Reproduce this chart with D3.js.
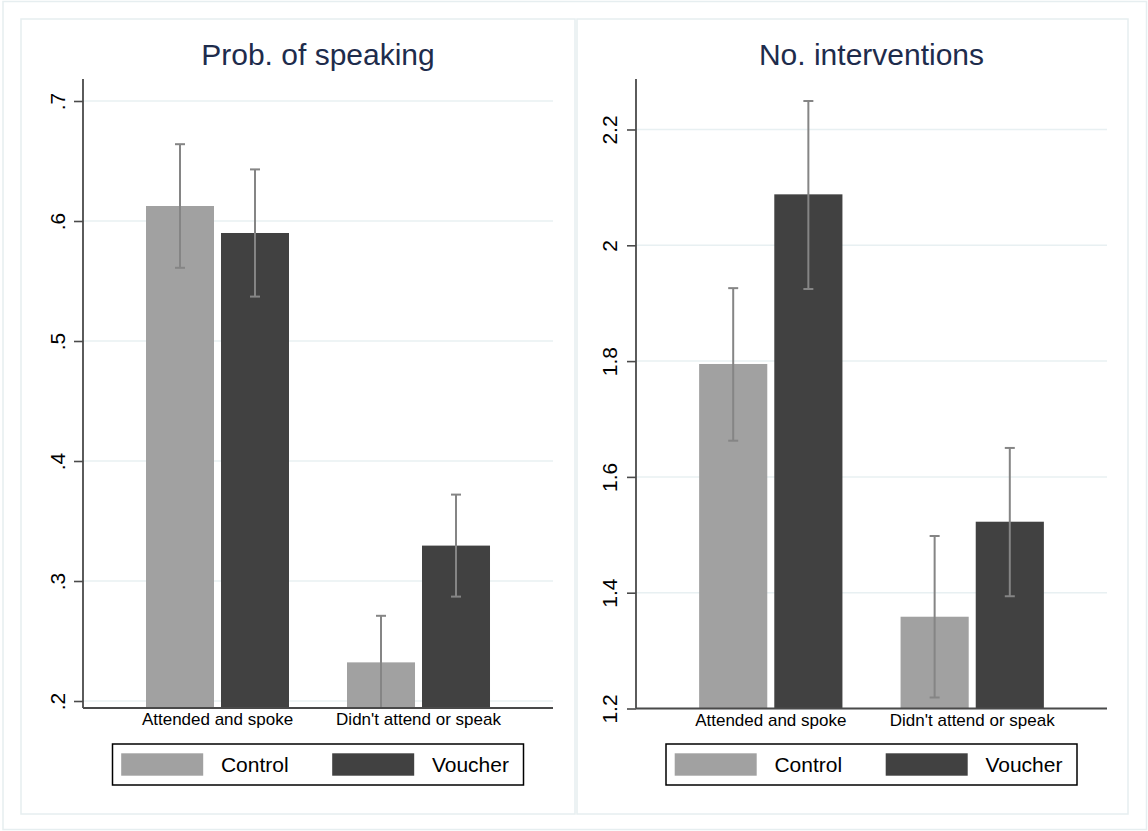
<!DOCTYPE html>
<html>
<head>
<meta charset="utf-8">
<script src="https://cdn.jsdelivr.net/npm/d3@7"></script>
<style>
  html, body { margin: 0; padding: 0; background: #ffffff; }
  svg { display: block; font-family: "Liberation Sans", Arial, Helvetica, sans-serif; }
</style>
</head>
<body>
<svg id="chart" width="1148" height="831"></svg>
<script>
// Outcome categories and treatment arms
const groups = ["Attended and spoke", "Didn't attend or speak"];
const arms = ["Control", "Voucher"];
const armColors = ["#a1a1a1", "#414141"];

// Probability of speaking: means and 95% CI bounds, per category
const probControl   = [0.6125, 0.2322];
const probVoucher   = [0.5900, 0.3295];
const probControlLo = [0.5610, 0.1930];
const probControlHi = [0.6640, 0.2710];
const probVoucherLo = [0.5370, 0.2870];
const probVoucherHi = [0.6430, 0.3720];

// Number of interventions: means and 95% CI bounds, per category
const nControl   = [1.7950, 1.3585];
const nVoucher   = [2.0880, 1.5226];
const nControlLo = [1.6625, 1.2190];
const nControlHi = [1.9260, 1.4980];
const nVoucherLo = [1.9245, 1.3940];
const nVoucherHi = [2.2490, 1.6500];

// Y-axis ticks
const probTicks = [0.2, 0.3, 0.4, 0.5, 0.6, 0.7];
const probTickLabels = [".2", ".3", ".4", ".5", ".6", ".7"];
const nTicks = [1.2, 1.4, 1.6, 1.8, 2.0, 2.2];
const nTickLabels = ["1.2", "1.4", "1.6", "1.8", "2", "2.2"];

function rows(ctrl, vouch, cLo, cHi, vLo, vHi) {
  return groups.map((g, i) => ({
    group: g,
    bars: [
      { arm: arms[0], value: ctrl[i],  lo: cLo[i], hi: cHi[i] },
      { arm: arms[1], value: vouch[i], lo: vLo[i], hi: vHi[i] }
    ]
  }));
}

const panels = [
  {
    title: "Prob. of speaking",
    frame: { x: 21, y: 19, w: 554, h: 795 },
    plot: { left: 83, right: 553, top: 79, bottom: 708 },
    domain: [0.19417, 0.71833],
    ticks: probTicks, tickLabels: probTickLabels, labelOffset: 18,
    data: rows(probControl, probVoucher, probControlLo, probControlHi, probVoucherLo, probVoucherHi)
  },
  {
    title: "No. interventions",
    frame: { x: 577, y: 19, w: 551, h: 795 },
    plot: { left: 636, right: 1107, top: 79, bottom: 708.5 },
    domain: [1.2, 2.2872],
    ticks: nTicks, tickLabels: nTickLabels, labelOffset: 19,
    data: rows(nControl, nVoucher, nControlLo, nControlHi, nVoucherLo, nVoucherHi)
  }
];

const svg = d3.select("#chart");
const edge = "#e6eef0";

// Outer graph region border
svg.append("rect")
  .attr("x", 3).attr("y", 1.5).attr("width", 1143.5).attr("height", 828)
  .attr("fill", "#ffffff").attr("stroke", edge).attr("stroke-width", 1.5);

panels.forEach((p, pi) => {
  const g = svg.append("g");

  g.append("rect")
    .attr("x", p.frame.x).attr("y", p.frame.y)
    .attr("width", p.frame.w).attr("height", p.frame.h)
    .attr("fill", "#ffffff").attr("stroke", edge).attr("stroke-width", 1.5);

  const y = d3.scaleLinear().domain(p.domain).range([p.plot.bottom, p.plot.top]);
  const x0 = d3.scaleBand().domain(groups)
    .range([p.plot.left, p.plot.right])
    .paddingInner(0.2886).paddingOuter(0.3134);
  const x1 = d3.scaleBand().domain(arms)
    .range([0, x0.bandwidth()])
    .paddingInner(0.0933).paddingOuter(0);
  const color = d3.scaleOrdinal().domain(arms).range(armColors);

  // Gridlines
  g.append("g").selectAll("line").data(p.ticks).join("line")
    .attr("x1", p.plot.left).attr("x2", p.plot.right)
    .attr("y1", d => y(d)).attr("y2", d => y(d))
    .attr("stroke", "#e8f0f2").attr("stroke-width", 1.5);

  // Title
  g.append("text")
    .attr("x", (p.plot.left + p.plot.right) / 2).attr("y", 65)
    .attr("text-anchor", "middle")
    .attr("font-size", 30).attr("fill", "#1e2c4c")
    .text(p.title);

  // Clip for the plot region
  const clipId = "clip" + pi;
  svg.append("clipPath").attr("id", clipId).append("rect")
    .attr("x", p.plot.left).attr("y", p.plot.top)
    .attr("width", p.plot.right - p.plot.left)
    .attr("height", p.plot.bottom - p.plot.top);

  const plot = g.append("g").attr("clip-path", `url(#${clipId})`);

  const grp = plot.selectAll("g.grp").data(p.data).join("g")
    .attr("class", "grp")
    .attr("transform", d => `translate(${x0(d.group)},0)`);

  grp.selectAll("rect").data(d => d.bars).join("rect")
    .attr("x", d => x1(d.arm))
    .attr("width", x1.bandwidth())
    .attr("y", d => y(d.value))
    .attr("height", d => p.plot.bottom - y(d.value))
    .attr("fill", d => color(d.arm));

  // Confidence interval whiskers
  const ciColor = "#858585";
  const capHalf = 5;
  const ci = grp.selectAll("g.ci").data(d => d.bars).join("g").attr("class", "ci")
    .attr("transform", d => `translate(${x1(d.arm) + x1.bandwidth() / 2},0)`);
  ci.append("line")
    .attr("x1", 0).attr("x2", 0)
    .attr("y1", d => y(d.lo)).attr("y2", d => y(d.hi))
    .attr("stroke", ciColor).attr("stroke-width", 2);
  ci.append("line")
    .attr("x1", -capHalf).attr("x2", capHalf)
    .attr("y1", d => y(d.hi)).attr("y2", d => y(d.hi))
    .attr("stroke", ciColor).attr("stroke-width", 2);
  ci.append("line")
    .attr("x1", -capHalf).attr("x2", capHalf)
    .attr("y1", d => y(d.lo)).attr("y2", d => y(d.lo))
    .attr("stroke", ciColor).attr("stroke-width", 2);

  // Y axis with rotated labels
  const yAxis = d3.axisLeft(y)
    .tickValues(p.ticks)
    .tickFormat((d, i) => p.tickLabels[i])
    .tickSize(9)
    .tickSizeOuter(0);
  const ya = g.append("g")
    .attr("transform", `translate(${p.plot.left},0)`)
    .call(yAxis);
  ya.select(".domain").remove();
  ya.selectAll(".tick line").attr("stroke", "#4a4a4a").attr("stroke-width", 1.6);
  ya.selectAll(".tick text")
    .attr("transform", "rotate(-90)")
    .attr("x", 0).attr("y", -p.labelOffset).attr("dy", 0)
    .attr("text-anchor", "middle")
    .attr("font-size", 21)
    .attr("fill", "#000000")
    .attr("font-family", "Liberation Sans, Arial, sans-serif");

  // Axis lines
  g.append("line")
    .attr("x1", p.plot.left).attr("x2", p.plot.left)
    .attr("y1", p.plot.top).attr("y2", p.plot.bottom)
    .attr("stroke", "#4a4a4a").attr("stroke-width", 1.8);

  const xAxis = d3.axisBottom(x0).tickSize(0).tickSizeOuter(0).tickPadding(5);
  const xa = g.append("g")
    .attr("transform", `translate(0,${p.plot.bottom})`)
    .call(xAxis);
  xa.select(".domain").remove();
  xa.selectAll(".tick text")
    .attr("y", 17).attr("dy", 0)
    .attr("font-size", 17).attr("fill", "#000000")
    .attr("font-family", "Liberation Sans, Arial, sans-serif");
  g.append("line")
    .attr("x1", p.plot.left).attr("x2", p.plot.right)
    .attr("y1", p.plot.bottom).attr("y2", p.plot.bottom)
    .attr("stroke", "#4a4a4a").attr("stroke-width", 1.8);

  // Legend
  const cx = (p.plot.left + p.plot.right) / 2;
  const lw = 411, lh = 41;
  const lg = g.append("g").attr("transform", `translate(${cx - lw / 2},744)`);
  lg.append("rect")
    .attr("x", 0).attr("y", 0).attr("width", lw).attr("height", lh)
    .attr("fill", "#ffffff").attr("stroke", "#000000").attr("stroke-width", 1.5);
  const items = lg.selectAll("g.item").data(arms).join("g")
    .attr("class", "item")
    .attr("transform", (d, i) => `translate(${8.7 + i * 211},0)`);
  items.append("rect")
    .attr("x", 0).attr("y", 9.3).attr("width", 82).attr("height", 22.4)
    .attr("fill", d => color(d));
  items.append("text")
    .attr("x", 99.7).attr("y", 27.7)
    .attr("font-size", 21).attr("fill", "#000000")
    .text(d => d);
});
</script>
</body>
</html>
